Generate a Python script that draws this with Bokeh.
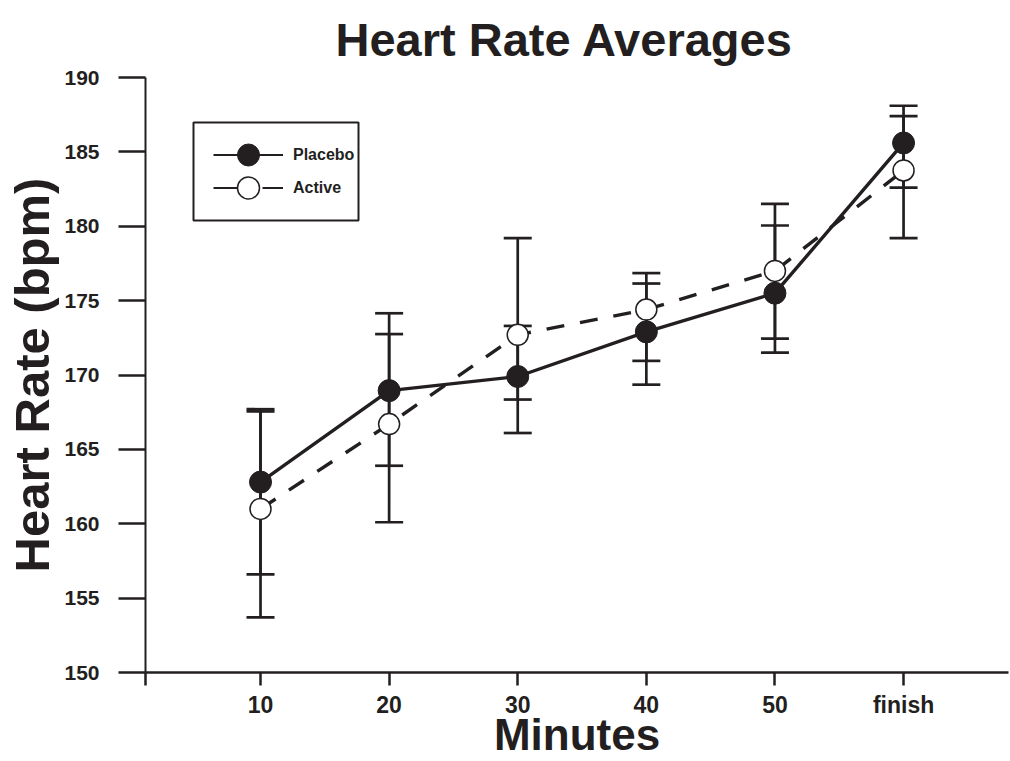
from bokeh.plotting import figure
from bokeh.models import (ColumnDataSource, Range1d, FixedTicker, Whisker, TeeHead,
                          Legend, LegendItem, BoxAnnotation)
from bokeh.embed import file_html
from bokeh.resources import INLINE

# ---- data ----
minutes = ["10", "20", "30", "40", "50", "finish"]
placebo_mean = [162.8, 168.95, 169.9, 172.9, 175.5, 185.6]
placebo_upper = [167.7, 174.15, 173.3, 176.85, 180.05, 188.1]
placebo_lower = [156.6, 163.9, 166.1, 169.35, 172.45, 182.6]
active_mean = [161.0, 166.7, 172.7, 174.4, 177.0, 183.75]
active_upper = [167.55, 172.75, 179.2, 176.15, 181.5, 187.4]
active_lower = [153.7, 160.1, 168.35, 170.95, 171.5, 179.2]
y_ticks = [150, 155, 160, 165, 170, 175, 180, 185, 190]

INK = "#231f20"
FONT = "Liberation Sans"
NAN = float("nan")

xpos = [i + 1 for i in range(len(minutes))]
x_start, x_end = 0.1057, 6.816

p = figure(width=1010, height=761, output_backend="svg", toolbar_location=None,
           x_range=Range1d(x_start, x_end), y_range=Range1d(150, 190),
           min_border_left=145, min_border_right=2, min_border_top=77,
           min_border_bottom=89)
p.outline_line_color = None
p.xgrid.visible = False
p.ygrid.visible = False
p.background_fill_color = "white"

# title
p.title.text = "Heart Rate Averages"
p.title.text_font = FONT
p.title.text_font_size = "47px"
p.title.text_font_style = "bold"
p.title.text_color = INK
p.title.align = "left"
p.title.vertical_align = "top"
p.title.offset = 190
p.title.standoff = 20

# y axis
ya = p.yaxis[0]
ya.ticker = FixedTicker(ticks=y_ticks)
ya.major_tick_out = 27
ya.major_tick_in = 0
ya.minor_tick_out = 0
ya.minor_tick_in = 0
ya.major_tick_line_width = 2.5
ya.major_tick_line_color = INK
ya.axis_line_width = 2
ya.axis_line_color = INK
ya.major_label_text_font = FONT
ya.major_label_text_font_size = "21px"
ya.major_label_text_font_style = "bold"
ya.major_label_text_color = INK
ya.major_label_standoff = 19
ya.axis_label = "Heart Rate (bpm)"
ya.axis_label_text_font = FONT
ya.axis_label_text_font_size = "49px"
ya.axis_label_text_font_style = "bold"
ya.axis_label_text_color = INK
ya.axis_label_standoff = 2

# x axis
xa = p.xaxis[0]
xa.ticker = FixedTicker(ticks=[x_start] + xpos)
overrides = {x_start: ""}
for xp, m in zip(xpos, minutes):
    overrides[xp] = m
xa.major_label_overrides = overrides
xa.major_tick_out = 13
xa.major_tick_in = 0
xa.minor_tick_out = 0
xa.minor_tick_in = 0
xa.major_tick_line_width = 2.5
xa.major_tick_line_color = INK
xa.axis_line_width = 2.5
xa.axis_line_color = INK
xa.major_label_text_font = FONT
xa.major_label_text_font_size = "23px"
xa.major_label_text_font_style = "bold"
xa.major_label_text_color = INK
xa.major_label_standoff = 6
xa.axis_label = "Minutes"
xa.axis_label_text_font = FONT
xa.axis_label_text_font_size = "44px"
xa.axis_label_text_font_style = "bold"
xa.axis_label_text_color = INK
xa.axis_label_standoff = -11

# error bars
for up, lo in ((placebo_upper, placebo_lower), (active_upper, active_lower)):
    src = ColumnDataSource(dict(x=xpos, upper=up, lower=lo))
    w = Whisker(base="x", upper="upper", lower="lower", source=src, dimension="height",
                line_color=INK, line_width=2.7, level="underlay",
                upper_head=TeeHead(size=28, line_width=2.7, line_color=INK),
                lower_head=TeeHead(size=28, line_width=2.7, line_color=INK))
    p.add_layout(w)

pl = p.line(xpos, placebo_mean, line_color=INK, line_width=3.4)
al = p.line(xpos, active_mean, line_color=INK, line_width=3.4, line_dash="18 16")
ps = p.scatter(xpos, placebo_mean, size=22, fill_color=INK, line_color=INK, line_width=1)
as_ = p.scatter(xpos, active_mean, size=21, fill_color="white", line_color=INK, line_width=1.5)

# legend-only key lines (draw nothing in the plot area)
pl_key = p.line([NAN], [NAN], line_color=INK, line_width=2.2)
al_key = p.line([NAN], [NAN], line_color=INK, line_width=2.2, line_dash="25 24")

# legend frame (screen units, relative to the plot frame)
p.add_layout(BoxAnnotation(left=48, right=213, top=550, bottom=452,
                           left_units="screen", right_units="screen",
                           top_units="screen", bottom_units="screen",
                           fill_color="white", fill_alpha=1,
                           line_color=INK, line_width=2, line_alpha=1))


def make_legend(label, renderers, loc):
    lg = Legend(items=[LegendItem(label=label, renderers=renderers)], location=loc)
    lg.border_line_color = None
    lg.background_fill_alpha = 0
    lg.padding = 0
    lg.spacing = 0
    lg.margin = 0
    lg.glyph_width = 70
    lg.glyph_height = 55
    lg.label_height = 55
    lg.label_standoff = 10
    lg.label_text_font = FONT
    lg.label_text_font_size = "16px"
    lg.label_text_font_style = "bold"
    lg.label_text_color = INK
    lg.label_text_baseline = "middle"
    p.add_layout(lg, "center")


make_legend("Placebo", [pl_key, ps], (68, 490))
make_legend("Active", [al_key, as_], (68, 457))

open("out.html", "w").write(file_html(p, INLINE))
